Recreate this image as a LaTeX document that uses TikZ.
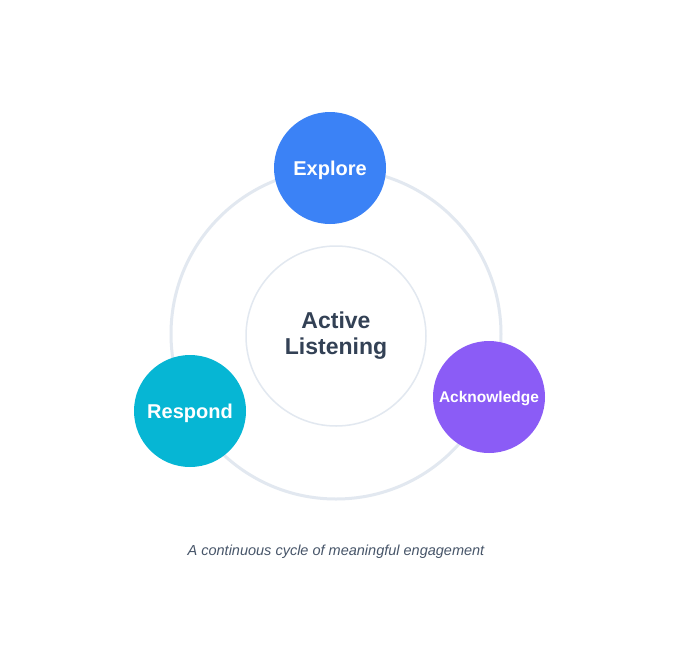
\documentclass[tikz,border=0pt]{standalone}
\usepackage{fontspec}
\setmainfont{Liberation Sans}
\definecolor{ring}{HTML}{E2E8F0}
\definecolor{explore}{HTML}{3B82F6}
\definecolor{ack}{HTML}{8B5CF6}
\definecolor{resp}{HTML}{06B6D4}
\definecolor{dark}{HTML}{334155}
\definecolor{cap}{HTML}{475569}
\tikzset{
  stage/.style={circle, minimum size=112pt, inner sep=0pt, text depth=0pt, text=white, font=\bfseries\fontsize{20}{22}\selectfont},
}
\begin{document}
\begin{tikzpicture}[x=1pt,y=-1pt]
\useasboundingbox[fill=white] (0,0) rectangle (672,672);
\node[circle, draw=ring, line width=3pt, minimum size=330pt, inner sep=0pt] (ringc) at (336,334) {};
\node[circle, draw=ring, line width=1.5pt, fill=white, minimum size=180pt, inner sep=0pt, align=center, text=dark, font=\bfseries\fontsize{23}{26}\selectfont] (core) at (336,336) {Active\\Listening};
\node[stage, fill=explore] (explore) at (330,168) {Explore};
\node[stage, fill=ack, font=\bfseries\fontsize{15.5}{17}\selectfont] (ack) at (489,397) {Acknowledge};
\node[stage, fill=resp] (resp) at (190,411) {Respond};
\node[text=cap, font=\itshape\fontsize{14.5}{16}\selectfont] (caption) at (336,552) {A continuous cycle of meaningful engagement};
\end{tikzpicture}
\end{document}
